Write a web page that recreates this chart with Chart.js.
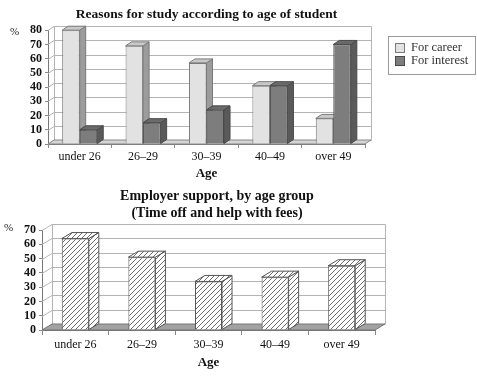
<!DOCTYPE html>
<html><head><meta charset="utf-8">
<script src="https://cdn.jsdelivr.net/npm/chart.js@4.4.1/dist/chart.umd.min.js"></script>
<style>
html,body{margin:0;padding:0;background:#fff;}
body{width:477px;height:386px;position:relative;overflow:hidden}
canvas{position:absolute;left:0}
#c1{top:0}
#c2{top:185px}
</style></head><body>
<canvas id="c1" width="477" height="185" style="width:477px;height:185px"></canvas>
<canvas id="c2" width="477" height="201" style="width:477px;height:201px"></canvas>
<script>
// ---- data ----
const ageGroups = ['under 26', '26–29', '30–39', '40–49', 'over 49'];
const careerPct = [80, 69, 57, 41, 18];
const interestPct = [10, 15, 24, 41, 70];
const employerSupportPct = [64, 51, 34, 37, 45];
const seriesNames = ['For career', 'For interest'];
const studyTitle = 'Reasons for study according to age of student';
const supportTitle = ['Employer support, by age group', '(Time off and help with fees)'];
const axisTitle = 'Age';
const unitLabel = '%';

const SERIF = "'Liberation Serif','Times New Roman',serif";

function poly(ctx, pts) {
  ctx.beginPath();
  ctx.moveTo(pts[0][0], pts[0][1]);
  for (let i = 1; i < pts.length; i++) ctx.lineTo(pts[i][0], pts[i][1]);
  ctx.closePath();
}

// 3D walls + bars with depth, drawn from the library's scales and bar elements
function depth3d(dx, dy, o) {
  return {
    id: 'depth3d',
    beforeDatasetsDraw(chart) {
      const ctx = chart.ctx;
      const {left: L, right: R, top: T, bottom: B} = chart.chartArea;
      const ys = chart.scales.y;
      ctx.save();
      ctx.lineWidth = 1;
      ctx.strokeStyle = o.grid;
      ys.ticks.forEach(t => {
        const yy = Math.round(ys.getPixelForValue(t.value)) + 0.5;
        ctx.beginPath();
        ctx.moveTo(L, yy); ctx.lineTo(L + dx, yy - dy); ctx.lineTo(R + dx, yy - dy);
        ctx.stroke();
      });
      const lx = Math.round(L + dx) + 0.5, rx = Math.round(R + dx) + 0.5;
      const ty = Math.round(T - dy) + 0.5, by = Math.round(B - dy) + 0.5;
      ctx.beginPath();
      ctx.moveTo(lx, by); ctx.lineTo(lx, ty); ctx.lineTo(rx, ty); ctx.lineTo(rx, by);
      ctx.stroke();
      // floor
      ctx.fillStyle = o.floor;
      poly(ctx, [[L, B], [L + dx, B - dy], [R + dx, B - dy], [R, B]]);
      ctx.fill();
      ctx.strokeStyle = o.edge;
      ctx.stroke();
      // bars: front face by the element itself, then side and top faces
      chart.data.datasets.forEach((ds, i) => {
        const meta = chart.getDatasetMeta(i);
        meta.data.forEach(bar => {
          bar.draw(ctx, chart.chartArea);
          const p = bar.getProps(['x', 'y', 'base', 'width'], true);
          const l = p.x - p.width / 2, r = p.x + p.width / 2;
          const t = Math.min(p.y, p.base), b = Math.max(p.y, p.base);
          ctx.lineWidth = 1;
          ctx.strokeStyle = ds.borderColor;
          ctx.fillStyle = ds.sideColor;
          poly(ctx, [[r, t], [r + dx, t - dy], [r + dx, b - dy], [r, b]]);
          ctx.fill(); ctx.stroke();
          ctx.fillStyle = ds.topColor;
          poly(ctx, [[l, t], [l + dx, t - dy], [r + dx, t - dy], [r, t]]);
          ctx.fill(); ctx.stroke();
        });
      });
      ctx.restore();
      return false;
    }
  };
}

function percentSign(x, y) {
  return {
    id: 'percentSign',
    afterDraw(chart) {
      const ctx = chart.ctx;
      ctx.save();
      ctx.font = '11px ' + SERIF;
      ctx.fillStyle = '#222';
      ctx.textAlign = 'left';
      ctx.textBaseline = 'middle';
      ctx.fillText(unitLabel, x, y);
      ctx.restore();
    }
  };
}

const boxLegend = {
  id: 'boxLegend',
  afterDraw(chart) {
    const ctx = chart.ctx;
    ctx.save();
    ctx.strokeStyle = '#9a9a9a';
    ctx.lineWidth = 1;
    ctx.strokeRect(388.5, 36.5, 87, 38);
    ctx.font = '12.5px ' + SERIF;
    ctx.textBaseline = 'middle';
    ctx.textAlign = 'left';
    chart.data.datasets.forEach((ds, i) => {
      const cy = 48 + i * 13;
      ctx.fillStyle = ds.backgroundColor;
      ctx.fillRect(395, cy - 5, 10, 10);
      ctx.strokeStyle = ds.borderColor;
      ctx.strokeRect(395.5, cy - 4.5, 9, 9);
      ctx.fillStyle = '#333';
      ctx.fillText(ds.label, 411, cy);
    });
    ctx.restore();
  }
};

const shiftTitle = {
  id: 'shiftTitle',
  afterLayout(chart) {
    const tb = chart.titleBlock;
    if (tb) { tb.left += 8.5; tb.right += 8.5; }
  }
};

function makeHatch(ctxRef) {
  const c = document.createElement('canvas');
  c.width = 5; c.height = 5;
  const g = c.getContext('2d');
  g.fillStyle = '#fff';
  g.fillRect(0, 0, 5, 5);
  g.strokeStyle = '#6e6e6e';
  g.lineWidth = 1;
  g.beginPath();
  g.moveTo(-1, 6); g.lineTo(6, -1);
  g.stroke();
  return ctxRef.createPattern(c, 'repeat');
}

const baseOpts = {
  responsive: false,
  animation: false,
  devicePixelRatio: 1,
  events: []
};

// ---- top chart ----
new Chart(document.getElementById('c1'), {
  type: 'bar',
  data: {
    labels: ageGroups,
    datasets: [
      { label: seriesNames[0], data: careerPct, backgroundColor: '#e2e2e2', borderColor: '#7a7a7a',
        borderWidth: 1, sideColor: '#9c9c9c', topColor: '#c8c8c8',
        categoryPercentage: 0.553, barPercentage: 1 },
      { label: seriesNames[1], data: interestPct, backgroundColor: '#7d7d7d', borderColor: '#4a4a4a',
        borderWidth: 1, sideColor: '#5a5a5a', topColor: '#6a6a6a',
        categoryPercentage: 0.553, barPercentage: 1 }
    ]
  },
  options: Object.assign({}, baseOpts, {
    layout: { padding: { left: 0, right: 112, top: 0, bottom: 0 } },
    plugins: {
      legend: { display: false },
      tooltip: { enabled: false },
      title: { display: true, fullSize: false, text: studyTitle, color: '#111',
        font: { family: SERIF, size: 13.5, weight: 'bold' }, padding: { top: 6, bottom: 8 } }
    },
    scales: {
      x: {
        grid: { display: true, drawOnChartArea: false, drawTicks: true, tickLength: 4, offset: true, color: '#8a8a8a' },
        border: { display: true, color: '#777' },
        ticks: { color: '#111', font: { family: SERIF, size: 12 }, padding: 2, maxRotation: 0, autoSkip: false },
        title: { display: true, text: axisTitle, color: '#111', font: { family: SERIF, size: 13, weight: 'bold' },
          padding: { top: 0, bottom: 4 } },
        afterFit(s) { s.height = 41; }
      },
      y: {
        min: 0, max: 80,
        ticks: { stepSize: 10, autoSkip: false, color: '#111', font: { family: SERIF, size: 12, weight: 'bold' }, padding: 3 },
        grid: { display: true, drawOnChartArea: false, drawTicks: true, tickLength: 3, color: '#8a8a8a' },
        border: { display: true, color: '#777' },
        afterFit(s) { s.width = 48; }
      }
    }
  }),
  plugins: [depth3d(6, 4, { grid: '#b4b4b4', floor: '#d4d4d4', edge: '#888' }), boxLegend, percentSign(10, 32)]
});

// ---- bottom chart ----
const c2 = document.getElementById('c2');
const hatch = makeHatch(c2.getContext('2d'));
new Chart(c2, {
  type: 'bar',
  data: {
    labels: ageGroups,
    datasets: [
      { label: 'Employer support', data: employerSupportPct, backgroundColor: hatch, borderColor: '#555',
        borderWidth: 1, sideColor: hatch, topColor: hatch,
        categoryPercentage: 0.406, barPercentage: 1 }
    ]
  },
  options: Object.assign({}, baseOpts, {
    layout: { padding: { left: 0, right: 102, top: 0, bottom: 0 } },
    plugins: {
      legend: { display: false },
      tooltip: { enabled: false },
      title: { display: true, fullSize: false, text: supportTitle, color: '#111',
        font: { family: SERIF, size: 14, weight: 'bold' }, padding: { top: 3, bottom: 8.4 } }
    },
    scales: {
      x: {
        grid: { display: true, drawOnChartArea: false, drawTicks: true, tickLength: 5, offset: true, color: '#8a8a8a' },
        border: { display: true, color: '#777' },
        ticks: { color: '#111', font: { family: SERIF, size: 12 }, padding: 3, maxRotation: 0, autoSkip: false },
        title: { display: true, text: axisTitle, color: '#111', font: { family: SERIF, size: 13, weight: 'bold' },
          padding: { top: 0, bottom: 16 } },
        afterFit(s) { s.height = 56; }
      },
      y: {
        min: 0, max: 70,
        ticks: { stepSize: 10, autoSkip: false, color: '#111', font: { family: SERIF, size: 12, weight: 'bold' }, padding: 3 },
        grid: { display: true, drawOnChartArea: false, drawTicks: true, tickLength: 3, color: '#8a8a8a' },
        border: { display: true, color: '#777' },
        afterFit(s) { s.width = 42; }
      }
    }
  }),
  plugins: [depth3d(10, 6, { grid: '#b4b4b4', floor: '#a2a2a2', edge: '#777' }), shiftTitle, percentSign(4, 43)]
});
</script>
</body></html>
